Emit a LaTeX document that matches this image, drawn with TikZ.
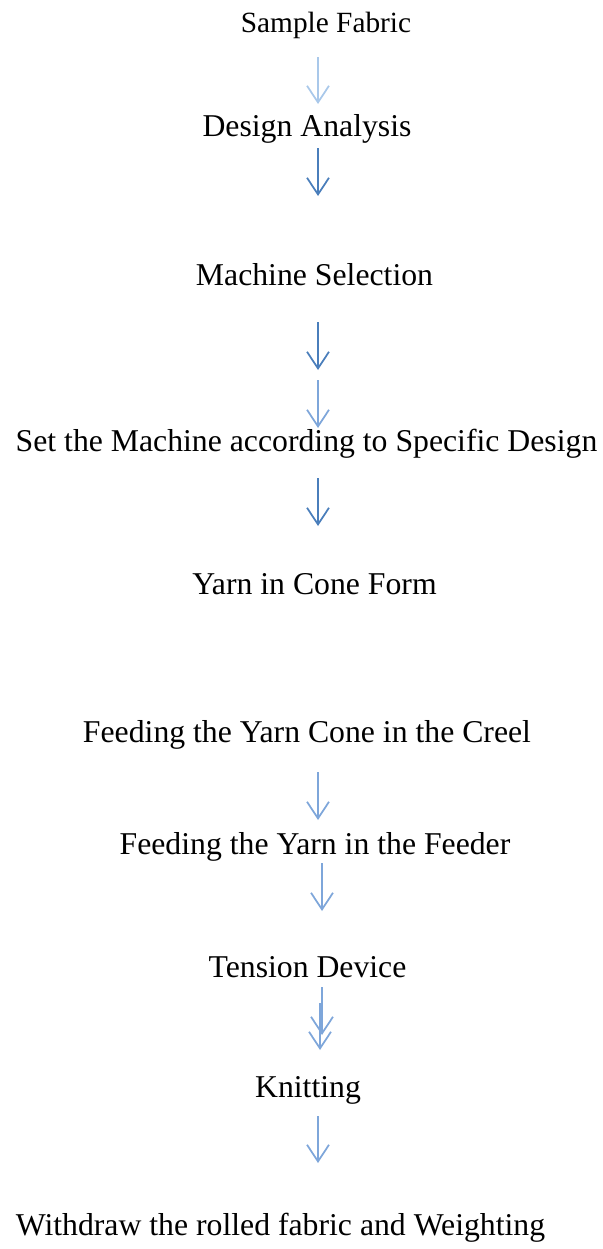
\documentclass[tikz,border=0pt]{standalone}
\usepackage{fontspec}
\setmainfont{Liberation Serif}
\usetikzlibrary{arrows.meta}

\definecolor{arrowdark}{HTML}{4A7EBB}
\definecolor{arrowlight}{HTML}{7EA6DA}
\definecolor{arrowpale}{HTML}{A9C8EA}

\begin{document}
\begin{tikzpicture}[x=0.75pt,y=-0.75pt,
	step text/.style={anchor=base,inner sep=0pt,font=\fontsize{23.8}{28}\selectfont},
	flow arrow/.style={line width=1.3pt,-{Straight Barb[length=12.5pt,width=16.5pt,line width=1.3pt]}}]
		\useasboundingbox (0,0) rectangle (603,1249);
		% process steps
		\node[step text,font=\fontsize{22}{26}\selectfont] (sample) at (326,32) {Sample Fabric};
		\node[step text] (design) at (307,136) {Design Analysis};
		\node[step text] (machine) at (314.5,285) {Machine Selection};
		\node[step text] (setmach) at (306.5,451) {Set the Machine according to Specific Design};
		\node[step text] (yarn) at (314.5,594) {Yarn in Cone Form};
		\node[step text] (creel) at (307,742) {Feeding the Yarn Cone in the Creel};
		\node[step text] (feeder) at (315,854) {Feeding the Yarn in the Feeder};
		\node[step text] (tension) at (307.5,977) {Tension Device};
		\node[step text] (knit) at (308,1097) {Knitting};
		\node[step text] (withdraw) at (280.5,1235) {Withdraw the rolled fabric and Weighting};
		% arrow ends
		\coordinate (a1) at (318,57);   \coordinate (b1) at (318,104);
		\coordinate (a2) at (318,148);  \coordinate (b2) at (318,196);
		\coordinate (a3) at (318,322);  \coordinate (b3) at (318,370);
		\coordinate (a4) at (318,380);  \coordinate (b4) at (318,428);
		\coordinate (a5) at (318,478);  \coordinate (b5) at (318,526);
		\coordinate (a6) at (318,772);  \coordinate (b6) at (318,820);
		\coordinate (a7) at (322,863);  \coordinate (b7) at (322,911);
		\coordinate (a8) at (322,987);  \coordinate (b8) at (322,1035);
		\coordinate (a9) at (320,1003); \coordinate (b9) at (320,1050);
		\coordinate (a10) at (318,1116); \coordinate (b10) at (318,1163);
		% arrows
		\draw[flow arrow,arrowpale,line width=1pt] (a1) -- (b1);
		\draw[flow arrow,arrowdark] (a2) -- (b2);
		\draw[flow arrow,arrowdark] (a3) -- (b3);
		\draw[flow arrow,arrowlight] (a4) -- (b4);
		\draw[flow arrow,arrowdark] (a5) -- (b5);
		\draw[flow arrow,arrowlight] (a6) -- (b6);
		\draw[flow arrow,arrowlight] (a7) -- (b7);
		\draw[flow arrow,arrowlight] (a8) -- (b8);
		\draw[flow arrow,arrowlight] (a9) -- (b9);
		\draw[flow arrow,arrowlight] (a10) -- (b10);
	\end{tikzpicture}
\end{document}
